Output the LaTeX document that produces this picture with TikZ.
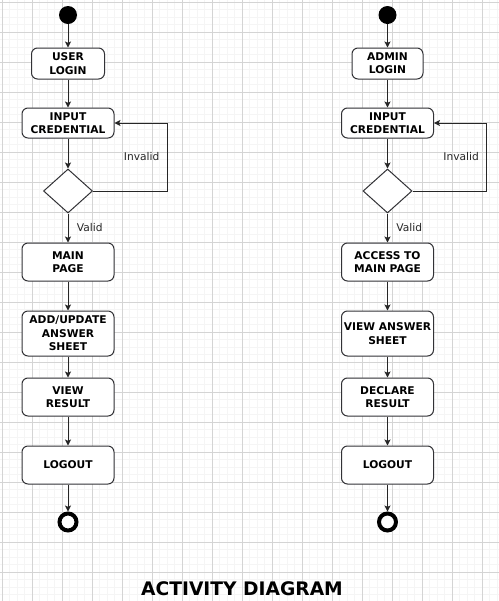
\documentclass[tikz,border=0pt]{standalone}
\usepackage{fontspec}
\setmainfont{DejaVu Sans}
\usepackage{xcolor}
\usepackage{tikz}
\usetikzlibrary{
    shapes.geometric,
    arrows.meta,
    calc
}
\definecolor{gridminor}{RGB}{245,245,245}
\definecolor{gridmajor}{RGB}{212,212,212}
\definecolor{boxline}{RGB}{50,50,54}
\tikzset{
  basic/.style = {
      draw=boxline,
      rectangle,
      rounded corners=4.5pt,
      fill=white,
      align=center,
      inner sep=0pt,
      line width=0.75pt,
      font=\fontsize{8}{10}\selectfont\bfseries,
      minimum width=69pt,
      minimum height=28.5pt
  },
  login/.style = {
      basic,
      minimum width=54.75pt,
      minimum height=23.25pt
  },
  low/.style = {
      basic,
      minimum height=22.5pt
  },
  tall/.style = {
      basic,
      minimum height=33.75pt
  },
  rhombus/.style = {
      draw=boxline,
      diamond,
      fill=white,
      line width=0.75pt,
      inner sep=0pt,
      minimum width=36.75pt,
      minimum height=33pt
  },
  begin/.style = {
      circle,
      fill=black,
      inner sep=0pt,
      minimum size=13.5pt
  },
  finish/.style = {
      circle,
      draw=black,
      fill=white,
      line width=3pt,
      inner sep=0pt,
      minimum size=12.75pt
  },
  flow/.style = {
      draw=black!85,
      line width=0.75pt,
      -{Stealth[length=4.5pt,width=4.5pt,inset=1pt]}
  },
  guard/.style = {
      font=\fontsize{8}{10}\selectfont,
      text=black!85
  },
  title/.style = {
      font=\fontsize{14}{16}\selectfont\bfseries
  }
}

\begin{document}
\begin{tikzpicture}[x=0.75pt, y=-0.75pt]
    \useasboundingbox (0,0) rectangle (499,601);
    % Grid
    \foreach \x in {-5.5,2,...,500}
        \draw[gridminor, line width=0.5pt] (\x,0) -- (\x,601);
    \foreach \y in {-5.5,2,...,602}
        \draw[gridminor, line width=0.5pt] (0,\y) -- (499,\y);
    \foreach \x in {2,32,...,499}
        \draw[gridmajor, line width=0.6pt] (\x,0) -- (\x,601);
    \foreach \y in {2,32,...,601}
        \draw[gridmajor, line width=0.6pt] (0,\y) -- (499,\y);

    % User nodes
    \node[begin] (u0) at (68,15) {};
    \node[login] (u1) at (68,63.5) {USER\\LOGIN};
    \node[low] (u2) at (68,123) {INPUT\\CREDENTIAL};
    \node[rhombus] (u3) at (68,191) {};
    \node[basic] (u4) at (68,262) {MAIN\\PAGE};
    \node[tall] (u5) at (68,333.5) {ADD/UPDATE\\ANSWER\\SHEET};
    \node[basic] (u6) at (68,397) {VIEW\\RESULT};
    \node[basic] (u7) at (68,465) {LOGOUT};
    \node[finish] (u8) at (68,522) {};

    % Admin nodes
    \node[begin] (a0) at (387.5,15) {};
    \node[login, minimum width=53.25pt] (a1) at (387.5,63.5) {ADMIN\\LOGIN};
    \node[low] (a2) at (387.5,123) {INPUT\\CREDENTIAL};
    \node[rhombus] (a3) at (387.5,191) {};
    \node[basic] (a4) at (387.5,262) {ACCESS TO\\MAIN PAGE};
    \node[tall] (a5) at (387.5,333.5) {VIEW ANSWER\\SHEET};
    \node[basic] (a6) at (387.5,397) {DECLARE\\RESULT};
    \node[basic] (a7) at (387.5,465) {LOGOUT};
    \node[finish] (a8) at (387.5,522) {};

    \node[title] (t) at (242,589) {ACTIVITY DIAGRAM};

    % Edges
    \foreach \p in {u,a} {
        \foreach \s/\e in {0/1, 1/2, 2/3, 4/5, 5/6, 6/7, 7/8}
            \draw[flow] (\p\s) -- (\p\e);
        \draw[flow] (\p3) -- node[guard, right=3pt] {Valid} (\p4);
        \draw[flow] (\p3.east) -- ++(74,0)
            |- node[guard, left=2pt, pos=0.25] {Invalid} (\p2.east);
    }
\end{tikzpicture}
\end{document}
